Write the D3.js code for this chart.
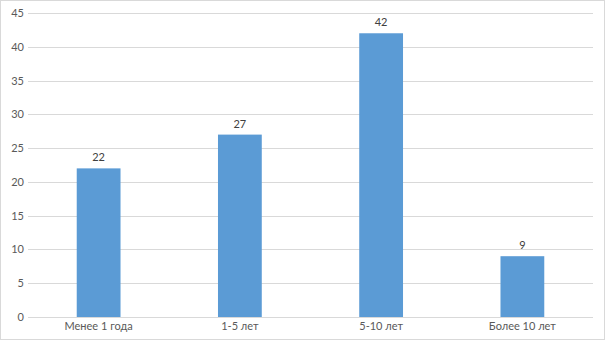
<!doctype html>
<html lang="ru">
<head>
  <meta charset="utf-8">
  <title>Стаж</title>
  <style>
    body { margin: 0; background: #fff; }
    svg { display: block; }
    svg text { font-family: Lato, "Open Sans", sans-serif; }
    .grid line { stroke: #d9d9d9; stroke-width: 1; }
    .tick text { fill: #595959; font-size: 11px; }
    .bar { fill: #5b9bd5; }
    .label { fill: #404040; font-size: 11px; text-anchor: middle; }
  </style>
</head>
<body>
  <div id="chart"></div>
  <script src="https://cdn.jsdelivr.net/npm/d3@7"></script>
  <script>
var categories = ["Менее 1 года", "1-5 лет", "5-10 лет", "Более 10 лет"];
var values = [22, 27, 42, 9];
var yTicks = [0, 5, 10, 15, 20, 25, 30, 35, 40, 45];

(function() {
  var width = 605, height = 340;
  var margin = {top: 13, right: 12, bottom: 23, left: 28};

  var svg = d3.select("#chart").append("svg")
      .attr("width", width)
      .attr("height", height);

  // outer frame of the chart area
  svg.append("rect")
      .attr("x", 0.5).attr("y", 0.5)
      .attr("width", width - 1).attr("height", height - 1)
      .attr("fill", "none")
      .attr("stroke", "#d9d9d9");

  var x = d3.scaleBand()
      .domain(categories)
      .range([margin.left, width - margin.right])
      .paddingInner(0.69)
      .paddingOuter(0.345);

  var y = d3.scaleLinear()
      .domain([0, 45])
      .range([height - margin.bottom, margin.top]);

  // gridlines
  svg.append("g").attr("class", "grid")
    .selectAll("line")
    .data(yTicks)
    .enter().append("line")
      .attr("x1", margin.left)
      .attr("x2", width - margin.right)
      .attr("y1", function(d) { return Math.round(y(d)) + 0.5; })
      .attr("y2", function(d) { return Math.round(y(d)) + 0.5; });

  // y axis, labels only
  var yAxis = svg.append("g")
      .attr("transform", "translate(" + (margin.left - 4) + ",0)")
      .call(d3.axisLeft(y).tickValues(yTicks).tickSize(0).tickPadding(0));
  yAxis.select(".domain").remove();

  // bars
  svg.selectAll(".bar")
    .data(values)
    .enter().append("rect")
      .attr("class", "bar")
      .attr("x", function(d, i) { return x(categories[i]); })
      .attr("width", x.bandwidth())
      .attr("y", function(d) { return y(d); })
      .attr("height", function(d) { return y(0) - y(d); });

  // value labels
  svg.selectAll(".label")
    .data(values)
    .enter().append("text")
      .attr("class", "label")
      .attr("x", function(d, i) { return x(categories[i]) + x.bandwidth() / 2; })
      .attr("y", function(d) { return y(d) - 7; })
      .text(function(d) { return d; });

  // x axis, labels only
  var xAxis = svg.append("g")
      .attr("transform", "translate(0," + y(0) + ")")
      .call(d3.axisBottom(x).tickSize(0).tickPadding(5));
  xAxis.select(".domain").remove();
})();
  </script>
</body>
</html>
